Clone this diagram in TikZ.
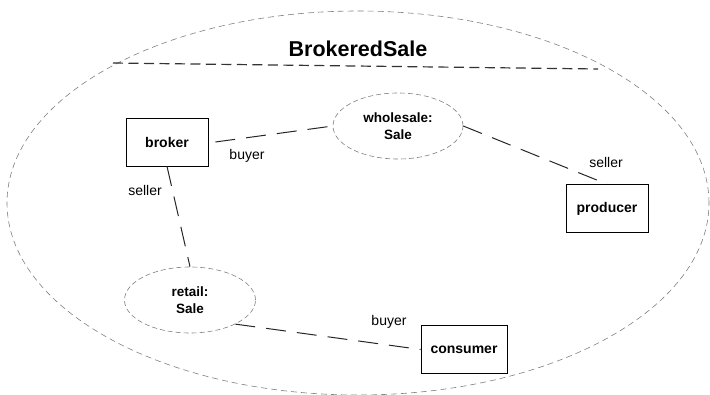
\documentclass[tikz,border=0pt]{standalone}
\usepackage{fontspec}
\setmainfont{Liberation Sans}
\usetikzlibrary{shapes.geometric}
\begin{document}
\begin{tikzpicture}[x=1pt,y=-1pt,
  classbox/.style={draw=black,line width=0.7pt,minimum width=82pt,minimum height=48pt,inner sep=0pt,font=\fontsize{14}{17}\selectfont\bfseries},
  rolebub/.style={ellipse,draw=gray,line width=0.6pt,dash pattern=on 5pt off 3pt,minimum width=131pt,minimum height=66pt,inner sep=0pt,align=center,font=\fontsize{13.5}{16.5}\selectfont\bfseries},
  conn/.style={draw=black!85,line width=1pt,dash pattern=on 20pt off 11pt},
  rolelbl/.style={font=\fontsize{14}{17}\selectfont,inner sep=0pt}
]
\useasboundingbox (0,0) rectangle (710,394);
\node[ellipse,draw=gray,line width=0.6pt,dash pattern=on 6pt off 4pt,minimum width=702pt,minimum height=384pt,inner sep=0pt] (outer) at (358,203) {};
\node[font=\fontsize{21.5}{24}\selectfont\bfseries,inner sep=0pt] (title) at (358,49) {BrokeredSale};
\coordinate (sepL) at (113,63);
\coordinate (sepR) at (598,69);
\draw[black!80,line width=1.2pt,dash pattern=on 10pt off 5.5pt] (sepL) -- (sepR);

\node[classbox] (broker) at (167,142) {broker};
\node[classbox] (producer) at (607,208.5) {producer};
\node[classbox,minimum width=86pt] (consumer) at (464,349.5) {consumer};
\node[rolebub,minimum width=130pt] (wholesale) at (398,126) {wholesale:\\Sale};
\node[rolebub] (retail) at (190,300) {retail:\\Sale};

\draw[conn] ([xshift=7pt]broker.east) -- (wholesale.west);
\draw[conn] (wholesale.east) -- (producer.north);
\draw[conn] (broker.south) -- (retail.north);
\draw[conn] (retail.-28) -- (consumer.west);

\node[rolelbl] (l1) at (247,156) {buyer};
\node[rolelbl] (l2) at (145,190) {seller};
\node[rolelbl] (l3) at (606,162) {seller};
\node[rolelbl] (l4) at (389,322) {buyer};
\end{tikzpicture}
\end{document}
